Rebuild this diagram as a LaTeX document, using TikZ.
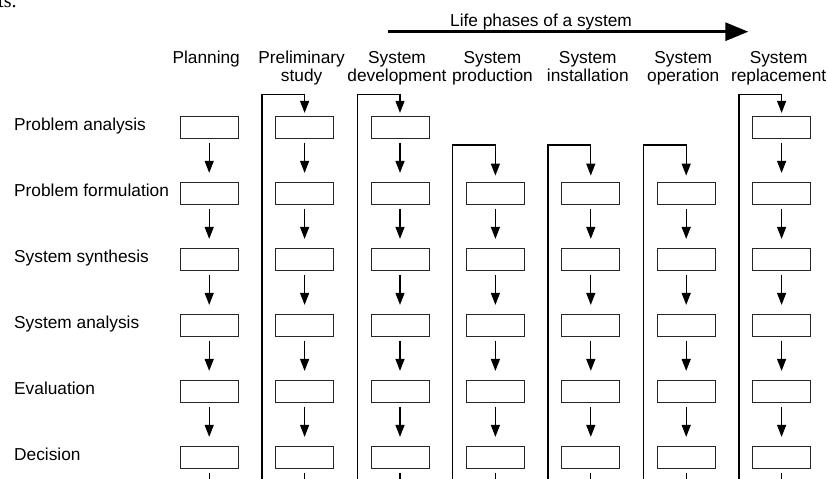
\documentclass[tikz,border=0pt]{standalone}
\usepackage{fontspec}
\setmainfont{Liberation Sans}
\newfontfamily\serifpart{Liberation Serif}
\usetikzlibrary{arrows.meta}
\tikzset{
  stage/.style={draw=black!85, line width=0.9pt, minimum width=58pt,
    minimum height=21.5pt, inner sep=0pt},
  flow/.style={line width=1.3pt, -{Triangle[width=9pt,length=12pt]},
    shorten <=4pt, shorten >=9.4pt},
  feed/.style={line width=1.3pt, -{Triangle[width=9pt,length=12pt]}},
  tail/.style={line width=1.3pt, shorten <=4pt},
  rowlbl/.style={anchor=base west, inner sep=0pt,
    font=\fontsize{17.3}{18}\selectfont},
  phase/.style={anchor=base, align=center, inner sep=0pt,
    font=\fontsize{17.3}{18}\selectfont},
}
\begin{document}
\begin{tikzpicture}[x=1pt, y=-1pt]
\useasboundingbox (0,0) rectangle (828,479);
\node[anchor=base west, inner sep=0pt, font=\serifpart\fontsize{20}{22}\selectfont]
       (frag) at (-2,7) {ts.};
\node[phase] (life) at (541,26) {Life phases of a system};
\coordinate (lifeA) at (388.3,31.7);
\coordinate (lifeB) at (748.3,31.7);
\draw[line width=3pt, -{Triangle[width=18pt,length=23pt]}] (lifeA) -- (lifeB);
\coordinate (bottom) at (0,490);
\coordinate (top1) at (0,94.3);
\coordinate (top2) at (0,145);
\node[phase] (hplan) at (206.2,63) {Planning};
\node[phase] (hpre) at (301.6,81) {Preliminary\\study};
\node[phase] (hdev) at (397,81) {System\\development};
\node[phase] (hprod) at (492.4,81) {System\\production};
\node[phase] (hinst) at (587.8,81) {System\\installation};
\node[phase] (hoper) at (683.2,81) {System\\operation};
\node[phase] (hrepl) at (778.6,81) {System\\replacement};
\node[rowlbl] (pa) at (14,130) {Problem analysis};
\node[rowlbl] (pf) at (14,196) {Problem formulation};
\node[rowlbl] (ss) at (14,262) {System synthesis};
\node[rowlbl] (sa) at (14,328) {System analysis};
\node[rowlbl] (ev) at (14,394) {Evaluation};
\node[rowlbl] (de) at (14,460) {Decision};
\node[stage] (plan1) at (209.2,127.5) {};
\node[stage] (plan2) at (209.2,193.5) {};
\node[stage] (plan3) at (209.2,259.5) {};
\node[stage] (plan4) at (209.2,325.5) {};
\node[stage] (plan5) at (209.2,391.5) {};
\node[stage] (plan6) at (209.2,457.5) {};
\node[stage] (pre1) at (304.6,127.5) {};
\node[stage] (pre2) at (304.6,193.5) {};
\node[stage] (pre3) at (304.6,259.5) {};
\node[stage] (pre4) at (304.6,325.5) {};
\node[stage] (pre5) at (304.6,391.5) {};
\node[stage] (pre6) at (304.6,457.5) {};
\node[stage] (dev1) at (400,127.5) {};
\node[stage] (dev2) at (400,193.5) {};
\node[stage] (dev3) at (400,259.5) {};
\node[stage] (dev4) at (400,325.5) {};
\node[stage] (dev5) at (400,391.5) {};
\node[stage] (dev6) at (400,457.5) {};
\node[stage] (prod2) at (495.4,193.5) {};
\node[stage] (prod3) at (495.4,259.5) {};
\node[stage] (prod4) at (495.4,325.5) {};
\node[stage] (prod5) at (495.4,391.5) {};
\node[stage] (prod6) at (495.4,457.5) {};
\node[stage] (inst2) at (590.8,193.5) {};
\node[stage] (inst3) at (590.8,259.5) {};
\node[stage] (inst4) at (590.8,325.5) {};
\node[stage] (inst5) at (590.8,391.5) {};
\node[stage] (inst6) at (590.8,457.5) {};
\node[stage] (oper2) at (686.2,193.5) {};
\node[stage] (oper3) at (686.2,259.5) {};
\node[stage] (oper4) at (686.2,325.5) {};
\node[stage] (oper5) at (686.2,391.5) {};
\node[stage] (oper6) at (686.2,457.5) {};
\node[stage] (repl1) at (781.6,127.5) {};
\node[stage] (repl2) at (781.6,193.5) {};
\node[stage] (repl3) at (781.6,259.5) {};
\node[stage] (repl4) at (781.6,325.5) {};
\node[stage] (repl5) at (781.6,391.5) {};
\node[stage] (repl6) at (781.6,457.5) {};
\draw[flow] (plan1) -- (plan2);
\draw[flow] (plan2) -- (plan3);
\draw[flow] (plan3) -- (plan4);
\draw[flow] (plan4) -- (plan5);
\draw[flow] (plan5) -- (plan6);
\draw[flow] (pre1) -- (pre2);
\draw[flow] (pre2) -- (pre3);
\draw[flow] (pre3) -- (pre4);
\draw[flow] (pre4) -- (pre5);
\draw[flow] (pre5) -- (pre6);
\draw[flow] (dev1) -- (dev2);
\draw[flow] (dev2) -- (dev3);
\draw[flow] (dev3) -- (dev4);
\draw[flow] (dev4) -- (dev5);
\draw[flow] (dev5) -- (dev6);
\draw[flow] (prod2) -- (prod3);
\draw[flow] (prod3) -- (prod4);
\draw[flow] (prod4) -- (prod5);
\draw[flow] (prod5) -- (prod6);
\draw[flow] (inst2) -- (inst3);
\draw[flow] (inst3) -- (inst4);
\draw[flow] (inst4) -- (inst5);
\draw[flow] (inst5) -- (inst6);
\draw[flow] (oper2) -- (oper3);
\draw[flow] (oper3) -- (oper4);
\draw[flow] (oper4) -- (oper5);
\draw[flow] (oper5) -- (oper6);
\draw[flow] (repl1) -- (repl2);
\draw[flow] (repl2) -- (repl3);
\draw[flow] (repl3) -- (repl4);
\draw[flow] (repl4) -- (repl5);
\draw[flow] (repl5) -- (repl6);
\draw[tail] (plan6) -- (plan6 |- bottom);
\draw[tail] (pre6) -- (pre6 |- bottom);
\draw[tail] (dev6) -- (dev6 |- bottom);
\draw[tail] (prod6) -- (prod6 |- bottom);
\draw[tail] (inst6) -- (inst6 |- bottom);
\draw[tail] (oper6) -- (oper6 |- bottom);
\draw[tail] (repl6) -- (repl6 |- bottom);
\draw[feed, shorten >=3.4pt] ([xshift=-13.3pt]pre1.west |- bottom)
       -- ([xshift=-13.3pt]pre1.west |- top1) -| (pre1);
\draw[feed, shorten >=3.4pt] ([xshift=-13.3pt]dev1.west |- bottom)
       -- ([xshift=-13.3pt]dev1.west |- top1) -| (dev1);
\draw[feed, shorten >=6.7pt] ([xshift=-13.3pt]prod2.west |- bottom)
       -- ([xshift=-13.3pt]prod2.west |- top2) -| (prod2);
\draw[feed, shorten >=6.7pt] ([xshift=-13.3pt]inst2.west |- bottom)
       -- ([xshift=-13.3pt]inst2.west |- top2) -| (inst2);
\draw[feed, shorten >=6.7pt] ([xshift=-13.3pt]oper2.west |- bottom)
       -- ([xshift=-13.3pt]oper2.west |- top2) -| (oper2);
\draw[feed, shorten >=3.4pt] ([xshift=-13.3pt]repl1.west |- bottom)
       -- ([xshift=-13.3pt]repl1.west |- top1) -| (repl1);
\end{tikzpicture}
\end{document}
